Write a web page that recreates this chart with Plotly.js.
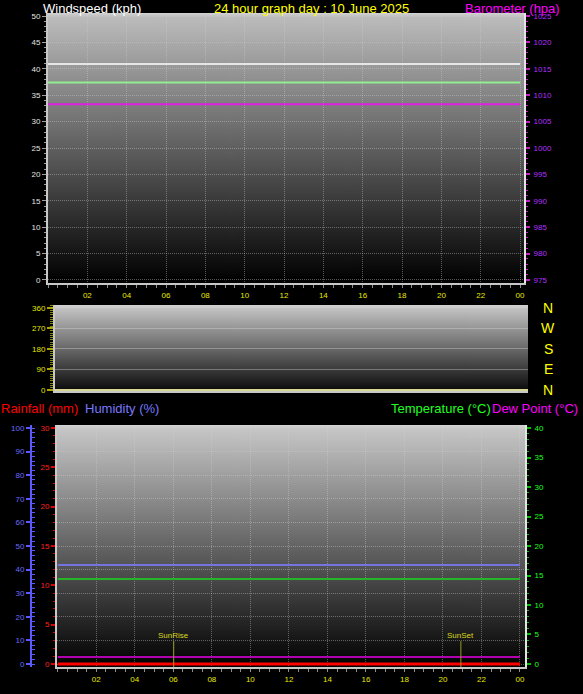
<!DOCTYPE html>
<html>
<head>
<meta charset="utf-8">
<script src="https://cdn.plot.ly/plotly-3.0.1.min.js"></script>
<style>
  html, body { margin: 0; padding: 0; background: #000; }
  #graf24 { width: 583px; height: 694px; }
</style>
</head>
<body>
<div id="graf24"></div>
<script>
// Gögn lesin af myndinni (gildin eru flöt allan daginn)
const hours = [0, 2, 4, 6, 8, 10, 12, 14, 16, 18, 20, 22, 24];
const hourTicks = [2, 4, 6, 8, 10, 12, 14, 16, 18, 20, 22, 24];
const hourLabels = ['02', '04', '06', '08', '10', '12', '14', '16', '18', '20', '22', '00'];

const windGust = [40.9, 40.9, 40.9, 40.9, 40.9, 40.9, 40.9, 40.9, 40.9, 40.9, 40.9, 40.9, 40.9];
const windAvg = [37.4, 37.4, 37.4, 37.4, 37.4, 37.4, 37.4, 37.4, 37.4, 37.4, 37.4, 37.4, 37.4];
const barometer = [1008.3, 1008.3, 1008.3, 1008.3, 1008.3, 1008.3, 1008.3, 1008.3, 1008.3, 1008.3, 1008.3, 1008.3, 1008.3];
const windDir = [0, 0, 0, 0, 0, 0, 0, 0, 0, 0, 0, 0, 0];
const humidity = [42, 42, 42, 42, 42, 42, 42, 42, 42, 42, 42, 42, 42];
const temperature = [14.4, 14.4, 14.4, 14.4, 14.4, 14.4, 14.4, 14.4, 14.4, 14.4, 14.4, 14.4, 14.4];
const dewPoint = [1.2, 1.2, 1.2, 1.2, 1.2, 1.2, 1.2, 1.2, 1.2, 1.2, 1.2, 1.2, 1.2];
const rainfall = [0, 0, 0, 0, 0, 0, 0, 0, 0, 0, 0, 0, 0];

const dirTicks = [0, 90, 180, 270, 360];
const dirLabels = ['N', 'E', 'S', 'W', 'N'];
const sunNames = ['SunRise', 'SunSet'];
const sunHours = [6.02, 20.93];

const W = 583, H = 694;
function px(x) { return x / W; }
function py(y) { return 1 - y / H; }

// Grár litastigull sem bakgrunnur í hverjum ramma
function gradientImage(stops) {
        const c = document.createElement('canvas');
        c.width = 4;
        c.height = 512;
        const ctx = c.getContext('2d');
        const g = ctx.createLinearGradient(0, 0, 0, 512);
        stops.forEach(s => g.addColorStop(s[0], s[1]));
        ctx.fillStyle = g;
        ctx.fillRect(0, 0, 4, 512);
        return c.toDataURL();
}
function bgImage(stops, x0, x1, y0, y1) {
        return {
                source: gradientImage(stops),
                xref: 'paper', yref: 'paper',
                x: px(x0), y: py(y0),
                sizex: (x1 - x0) / W, sizey: (y1 - y0) / H,
                sizing: 'stretch', xanchor: 'left', yanchor: 'top',
                layer: 'below',
        };
}

const font = 'Liberation Sans, Arial, sans-serif';
const gridDot = 'rgba(210,210,210,0.4)';
const dotDash = '1px,1px';
const frame = '#c8c8c8';

function hourAxis(x0, x1, range, anchor) {
        return {
                domain: [px(x0), px(x1)],
                anchor: anchor,
                range: range,
                tickmode: 'array',
                tickvals: hourTicks,
                ticktext: hourLabels,
                tickfont: {size: 8, color: '#e8e800', family: font},
                ticks: 'outside', ticklen: 3, tickcolor: '#8c8c8c', tickwidth: 1,
                minor: {dtick: 0.5, tick0: 0, ticks: 'outside', ticklen: 3, tickcolor: '#8c8c8c', tickwidth: 1, showgrid: false},
                showgrid: true, gridcolor: gridDot, griddash: dotDash, gridwidth: 1,
                showline: true, linecolor: frame, linewidth: 2,
                zeroline: false, fixedrange: true,
        };
}

function line(x, y, xa, ya, color, width) {
        return {x: x, y: y, xaxis: xa, yaxis: ya, type: 'scatter', mode: 'lines',
                line: {color: color, width: width}, hoverinfo: 'skip', showlegend: false};
}

const traces = [
        line(hours, windGust, 'x', 'y', '#e6e6e6', 2),
        line(hours, windAvg, 'x', 'y', '#90f090', 2),
        line(hours, barometer, 'x', 'y2', '#e020e0', 2),
        line(hours, windDir, 'x2', 'y3', '#d8d890', 2),
        line(hours, humidity, 'x3', 'y6', '#7474e0', 2),
        line(hours, temperature, 'x3', 'y7', '#28b428', 2),
        line(hours, dewPoint, 'x3', 'y7', '#b000b0', 2),
        line(hours, rainfall, 'x3', 'y5', '#ff0000', 3),
];

const shapes = [];
const annotations = [];
sunHours.forEach((h, i) => {
        shapes.push({type: 'line', xref: 'x3', yref: 'y5 domain', x0: h, x1: h, y0: 0, y1: 0.107,
                line: {color: '#9a9a20', width: 1}});
        annotations.push({xref: 'x3', yref: 'y5 domain', x: h, y: 0.107, text: sunNames[i],
                showarrow: false, xanchor: 'center', yanchor: 'bottom', yshift: -1,
                font: {size: 8, color: '#d8d820', family: font}});
});

// Áttir til hægri við miðramma
dirTicks.forEach((d, i) => {
        annotations.push({xref: 'paper', yref: 'y3', x: px(548), y: d, text: dirLabels[i],
                showarrow: false, xanchor: 'center', yanchor: 'middle',
                font: {size: 14, color: '#ffff00', family: font}});
});

function title(text, x, y, color, anchor) {
        annotations.push({xref: 'paper', yref: 'paper', x: px(x), y: py(y), text: text,
                showarrow: false, xanchor: anchor || 'left', yanchor: 'middle', borderpad: 0,
                font: {size: 13, color: color, family: font}});
}
function topTitle(text, x, color, anchor) {
        annotations.push({xref: 'paper', yref: 'paper', x: px(x), y: 1, text: text,
                showarrow: false, xanchor: anchor || 'left', yanchor: 'top', borderpad: 0,
                font: {size: 13, color: color, family: font}});
}
topTitle('Windspeed (kph)', 42, '#ffffff');
topTitle('24 hour graph day : 10 June 2025', 311, '#ffff00', 'center');
topTitle('Barometer (hpa)', 561, '#ff00ff', 'right');
title('Rainfall (mm)', 0, 408, '#ff0000');
title('Humidity (%)', 84, 408, '#7878ff');
title('Temperature (°C)', 390, 408, '#20ff20');
title('Dew Point (°C)', 491, 408, '#ff00ff');

const layout = {
        width: W, height: H,
        margin: {l: 0, r: 0, t: 0, b: 0},
        paper_bgcolor: '#000000',
        plot_bgcolor: 'rgba(0,0,0,0)',
        showlegend: false,
        hovermode: false,
        images: [
                bgImage([[0, '#d4d4d4'], [0.015, '#bcbcbc'], [1, '#000000']], 48, 524, 13, 283),
                bgImage([[0, '#d4d4d4'], [0.04, '#c2c2c2'], [1, '#0a0a0a']], 55, 528, 305, 391),
                bgImage([[0, '#d4d4d4'], [0.015, '#c6c6c6'], [1, '#000000']], 57, 525, 425, 667),
        ],
        // Efri rammi: vindhraði og loftþrýstingur
        xaxis: hourAxis(48, 524, [0, 24.2], 'y'),
        yaxis: {
                domain: [py(283), py(13)], anchor: 'x',
                range: [-0.57, 50.57], tickmode: 'linear', tick0: 0, dtick: 5,
                tickfont: {size: 8, color: '#e4e4e4', family: font},
                ticks: 'outside', ticklen: 4, tickcolor: '#a0a0a0',
                minor: {dtick: 1, ticks: 'outside', ticklen: 2, tickcolor: '#a0a0a0', tickwidth: 1, showgrid: false},
                showgrid: true, gridcolor: gridDot, griddash: dotDash,
                showline: true, linecolor: frame, linewidth: 2,
                zeroline: false, fixedrange: true,
        },
        yaxis2: {
                overlaying: 'y', side: 'right', anchor: 'x',
                range: [975 - 0.57, 1025 + 0.57], tickmode: 'linear', tick0: 975, dtick: 5,
                tickfont: {size: 8, color: '#b030ff', family: font},
                ticks: 'outside', ticklen: 4, tickcolor: '#c020c0', tickwidth: 2, ticklabelstandoff: 2,
                minor: {dtick: 1, ticks: 'outside', ticklen: 2, tickcolor: '#c020c0', tickwidth: 1, showgrid: false},
                showgrid: false,
                showline: true, linecolor: '#e4e4e4', linewidth: 2,
                zeroline: false, fixedrange: true,
        },
        // Miðrammi: vindátt
        xaxis2: {
                domain: [px(55), px(528)], anchor: 'y3', range: [0, 24],
                showticklabels: false, ticks: '', showgrid: false,
                showline: true, linecolor: frame, linewidth: 2,
                zeroline: false, fixedrange: true,
        },
        yaxis3: {
                domain: [py(391), py(305)], anchor: 'x2',
                range: [-4.4, 373], tickmode: 'array', tickvals: dirTicks,
                tickfont: {size: 8, color: '#e4e400', family: font},
                ticks: 'outside', ticklen: 6, tickcolor: '#a8a800', tickwidth: 2,
                minor: {dtick: 10, tick0: 0, ticks: 'outside', ticklen: 3, tickcolor: '#8a8a10', tickwidth: 1, showgrid: false},
                showgrid: true, gridcolor: 'rgba(215,215,215,0.4)',
                showline: true, linecolor: frame, linewidth: 2,
                zeroline: false, fixedrange: true,
        },
        // Neðri rammi: úrkoma, raki, hiti og daggarmark
        xaxis3: hourAxis(57, 525, [-0.04, 24.26], 'y5'),
        yaxis5: {
                domain: [py(667), py(425)], anchor: 'x3',
                range: [-0.38, 30.38], tickmode: 'linear', tick0: 0, dtick: 5,
                tickfont: {size: 8, color: '#ff2020', family: font},
                ticks: 'outside', ticklen: 4, tickcolor: '#e00000', tickwidth: 2,
                minor: {dtick: 1, ticks: 'outside', ticklen: 2, tickcolor: '#e00000', tickwidth: 1, showgrid: false},
                showgrid: false,
                showline: true, linecolor: frame, linewidth: 2,
                zeroline: false, fixedrange: true,
        },
        yaxis6: {
                overlaying: 'y5', anchor: 'free', position: px(31), side: 'left',
                range: [-1.27, 101.27], tickmode: 'linear', tick0: 0, dtick: 10,
                tickfont: {size: 8, color: '#6a6aff', family: font},
                ticks: 'outside', ticklen: 4, tickcolor: '#5a5aff', tickwidth: 2,
                minor: {dtick: 2, ticks: 'inside', ticklen: 3, tickcolor: '#5a5aff', tickwidth: 1, showgrid: false},
                showgrid: true, gridcolor: gridDot, griddash: dotDash,
                showline: true, linecolor: '#5a5aff', linewidth: 2,
                zeroline: false, fixedrange: true,
        },
        yaxis7: {
                overlaying: 'y5', side: 'right', anchor: 'x3',
                range: [-0.51, 40.51], tickmode: 'linear', tick0: 0, dtick: 5,
                tickfont: {size: 8, color: '#20ff20', family: font},
                ticks: 'outside', ticklen: 4, tickcolor: '#00c000', tickwidth: 2, ticklabelstandoff: 2,
                minor: {dtick: 1, ticks: 'outside', ticklen: 2, tickcolor: '#00c000', tickwidth: 1, showgrid: false},
                showgrid: false,
                showline: true, linecolor: '#e4e4e4', linewidth: 2,
                zeroline: false, fixedrange: true,
        },
        shapes: shapes,
        annotations: annotations,
};

Plotly.newPlot(document.getElementById('graf24'), traces, layout, {displayModeBar: false, staticPlot: true});
</script>
</body>
</html>
